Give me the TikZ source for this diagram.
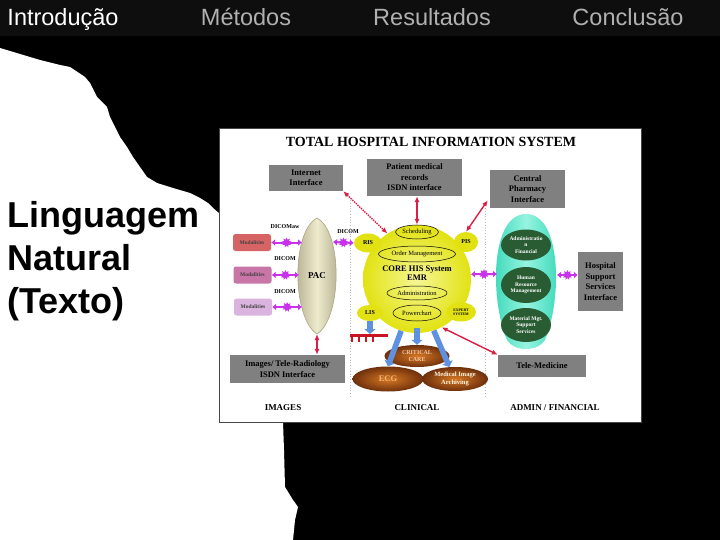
\documentclass[tikz,border=0pt]{standalone}
\usepackage{fontspec}
\setmainfont{Liberation Serif}
\newfontfamily\arialfont{Liberation Sans}
\usetikzlibrary{shapes.geometric, arrows.meta}

\definecolor{barcolor}{RGB}{14,14,14}
\definecolor{tabgray}{RGB}{176,176,176}
\definecolor{framegray}{RGB}{70,70,70}
\definecolor{boxgray}{RGB}{128,128,128}
\definecolor{coreyellow}{RGB}{226,226,18}
\definecolor{corelight}{RGB}{246,246,150}
\definecolor{pacbeige}{RGB}{238,234,204}
\definecolor{pacedge}{RGB}{170,165,135}
\definecolor{tealdark}{RGB}{52,214,182}
\definecolor{teallight}{RGB}{150,244,224}
\definecolor{mgtgreen}{RGB}{42,92,52}
\definecolor{brownlight}{RGB}{215,120,35}
\definecolor{browndark}{RGB}{110,48,12}
\definecolor{arrowred}{RGB}{220,30,70}
\definecolor{arrowblue}{RGB}{95,145,225}
\definecolor{starpurple}{RGB}{200,50,235}
\definecolor{combred}{RGB}{200,20,35}
\definecolor{modred}{RGB}{214,100,100}
\definecolor{modpink}{RGB}{200,118,168}
\definecolor{modlilac}{RGB}{218,180,222}

\begin{document}
\begin{tikzpicture}[x=1pt, y=-1pt,
    tab/.style={font=\arialfont\fontsize{23.5}{26}\selectfont, inner sep=0pt, anchor=base},
    bigtext/.style={font=\arialfont\bfseries\fontsize{36}{43}\selectfont, inner sep=0pt, anchor=base west},
    graybox/.style={fill=boxgray, align=center, inner sep=0pt, font=\bfseries\fontsize{8.5}{10.5}\selectfont},
    modbox/.style={rounded corners=2.5pt, minimum width=38, minimum height=17, inner sep=0pt, text=black!75, font=\bfseries\fontsize{5.5}{6}\selectfont},
    diclabel/.style={inner sep=0pt, font=\bfseries\fontsize{6}{7}\selectfont},
    bubble/.style={ellipse, fill=coreyellow, inner sep=0pt, font=\bfseries\fontsize{6}{7}\selectfont},
    ring/.style={ellipse, draw=black, line width=0.5pt, inner sep=0pt, font=\fontsize{6.5}{7}\selectfont},
    greenoval/.style={ellipse, fill=mgtgreen, text=white, inner sep=0pt, minimum width=50, align=center, font=\bfseries\fontsize{5.5}{6.5}\selectfont},
    brownoval/.style={ellipse, inner sep=0pt, shading=radial, inner color=brownlight, outer color=browndark, align=center},
    redarrow/.style={{Latex[length=6pt,width=5pt]}-{Latex[length=6pt,width=5pt]}, line width=1.4pt, draw=arrowred},
    bluearrow/.style={-{Triangle[length=5pt,width=11pt]}, line width=5.5pt, draw=arrowblue},
    purplearrow/.style={{Latex[length=4pt,width=7pt]}-{Latex[length=4pt,width=7pt]}, line width=2pt, draw=starpurple},
    burst/.style={star, star points=9, star point ratio=1.7, fill=starpurple, inner sep=0pt, minimum size=10pt},
    botlabel/.style={font=\bfseries\fontsize{9}{10}\selectfont}]
    \useasboundingbox (0,0) rectangle (720,540);

    % slide background and tab bar
    \fill[black] (0,0) rectangle (720,540);
    \fill[barcolor] (0,0) rectangle (720,36);
    \node[tab, text=white] (intro) at (63,26) {Introdução};
    \node[tab, text=tabgray] (metodos) at (246,26) {Métodos};
    \node[tab, text=tabgray] (result) at (432,26) {Resultados};
    \node[tab, text=tabgray] (concl) at (628,26) {Conclusão};

    % torn paper
    \fill[white] (0,48) -- (20,54) -- (40,60) -- (60,65) -- (70,67) -- (85,77) -- (90,83)
        -- (97,97) -- (107,107) -- (110,117) -- (115,127) -- (120,137) -- (127,147)
        -- (133,157) -- (140,167) -- (147,177) -- (157,183) -- (173,188) -- (190,193)
        -- (200,198) -- (208,203) -- (213,208) -- (220,214) -- (220,422) -- (283,422)
        -- (284,450) -- (285,487) -- (293,500) -- (298,507) -- (295,520) -- (293,540)
        -- (0,540) -- cycle;

    \node[bigtext] (lingua) at (7,227) {Linguagem};
    \node[bigtext] (natural) at (7,270) {Natural};
    \node[bigtext] (texto) at (7,313) {(Texto)};

    % embedded diagram
    \draw[draw=framegray, fill=white, line width=0.8pt] (219,128) rectangle (641,422);
    \draw[gray!55, dotted, line width=0.8pt] (350,200) -- (350,398);
    \draw[gray!55, dotted, line width=0.8pt] (485,208) -- (485,398);

    \node[font=\bfseries\fontsize{14}{16}\selectfont] (title) at (431,142) {TOTAL HOSPITAL INFORMATION SYSTEM};
    \node[botlabel] (imglab) at (283,408) {IMAGES};
    \node[botlabel] (clinlab) at (417,408) {CLINICAL};
    \node[botlabel] (finlab) at (555,408) {ADMIN / FINANCIAL};

    % interfaces
    \node[graybox, minimum width=74, minimum height=26] (inet) at (306,178) {Internet\\Interface};
    \node[graybox, minimum width=95, minimum height=37] (patient) at (414.5,177.5) {Patient medical\\records\\ISDN interface};
    \node[graybox, minimum width=75, minimum height=38] (pharm) at (527.5,189) {Central\\Pharmacy\\Interface};
    \node[graybox, minimum width=45, minimum height=59] (hosp) at (600.5,281.5) {Hospital\\Support\\Services\\Interface};
    \node[graybox, minimum width=88, minimum height=22] (tele) at (542,366) {Tele-Medicine};
    \node[graybox, minimum width=115, minimum height=28] (imgs) at (287.5,369) {Images/ Tele-Radiology\\ISDN Interface};

    % modalities
    \node[modbox, fill=modred] (mod1) at (252,242.5) {Modalities};
    \node[modbox, fill=modpink] (mod2) at (252.5,275) {Modalities};
    \node[modbox, fill=modlilac] (mod3) at (253,307) {Modalities};
    \node[diclabel] (dic1) at (285,227) {DICOMaw};
    \node[diclabel] (dic2) at (285,259) {DICOM};
    \node[diclabel] (dic3) at (285,292) {DICOM};
    \node[diclabel] (dic4) at (348,232) {DICOM};

    % PAC
    \draw[draw=pacedge, line width=0.6pt, left color=pacedge, right color=pacedge, middle color=pacbeige]
        (317,218) .. controls (343,232) and (342,318) .. (317,334)
        .. controls (292,318) and (291,232) .. (317,218) -- cycle;
    \node[font=\bfseries\fontsize{9}{10}\selectfont] (pac) at (317,276) {PAC};
    \coordinate (pacL1) at (302,242.5);
    \coordinate (pacL2) at (299,275);
    \coordinate (pacR) at (333,242);
    \coordinate (pacL3) at (302,307);
    \coordinate (pacS) at (317,334);

    % core HIS
    \node[circle, minimum size=108, inner sep=0pt, shading=radial, inner color=corelight, outer color=coreyellow] (core) at (417,279) {};
    \node[bubble, minimum width=28, minimum height=19] (ris) at (368,243) {RIS};
    \node[bubble, minimum width=24, minimum height=20] (pis) at (466,242) {PIS};
    \node[bubble, minimum width=26, minimum height=16] (lis) at (370,313) {LIS};
    \node[bubble, minimum width=30, minimum height=19, align=center, font=\bfseries\fontsize{3.8}{4}\selectfont] (expert) at (461,312) {EXPERT\\SYSTEM};
    \node[ring, minimum width=43, minimum height=14] (sched) at (417,232) {Scheduling};
    \node[ring, minimum width=77, minimum height=16] (order) at (417,254) {Order Management};
    \node[align=center, font=\bfseries\fontsize{8.5}{9.5}\selectfont] (emr) at (417,273) {CORE HIS System\\EMR};
    \node[ring, minimum width=60, minimum height=14] (admin) at (417,293) {Administration};
    \node[ring, minimum width=48, minimum height=16] (power) at (417,313) {Powerchart};

    % admin / financial
    \draw[draw=none, left color=tealdark, right color=tealdark, middle color=teallight]
        (526,214) .. controls (562,214) and (562,300) .. (545,340)
        .. controls (538,352) and (514,352) .. (507,340)
        .. controls (490,300) and (490,214) .. (526,214) -- cycle;
    \coordinate (tealL) at (497,274);
    \coordinate (tealR) at (557,275);
    \node[greenoval, minimum height=31] (finance) at (526,245) {Administratio\\n\\Financial};
    \node[greenoval, minimum height=36] (human) at (526,285) {Human\\Resource\\Management};
    \node[greenoval, minimum height=34] (material) at (526,325) {Material Mgt.\\Support\\Services};

    % clinical systems
    \node[brownoval, minimum width=65, minimum height=22, text={rgb,255:red,245;green,200;blue,170}, font=\bfseries\fontsize{6}{6.5}\selectfont] (crit) at (417,356) {CRITICAL\\CARE};
    \node[brownoval, minimum width=71, minimum height=25, text={rgb,255:red,245;green,180;blue,120}, font=\bfseries\fontsize{8.5}{9}\selectfont] (ecg) at (388,379) {ECG};
    \node[brownoval, minimum width=66, minimum height=24, text={rgb,255:red,255;green,245;blue,225}, font=\bfseries\fontsize{6.5}{7.5}\selectfont] (mia) at (455,379) {Medical Image\\Archiving};
    \coordinate (lan) at (370,334);
    \draw[combred, line width=2.5pt] (350,335.5) -- (388,335.5);
    \foreach \x in {352,359,366,373}
        \draw[combred, line width=1.3pt] (\x,335) -- (\x,342);

    % connectors
    \draw[purplearrow] (mod1.east) -- (pacL1) node[burst, midway] (st1) {};
    \draw[purplearrow] (mod2.east) -- (pacL2) node[burst, midway] (st2) {};
    \draw[purplearrow] (mod3.east) -- (pacL3) node[burst, midway] (st3) {};
    \draw[purplearrow] (pacR) -- (ris.west) node[burst, midway] (st4) {};
    \draw[purplearrow] (core.5) -- (tealL) node[burst, midway] (st5) {};
    \draw[purplearrow] (tealR) -- (tealR -| hosp.west) node[burst, midway] (st6) {};

    \draw[redarrow, densely dotted] (inet.south east) -- (core.123);
    \draw[redarrow] (core.north |- patient.south) -- (core.north);
    \draw[redarrow] (pis.north) -- ([shift={(-2,-8)}]pharm.south west);
    \draw[redarrow] (core.-63) -- (tele.north west);
    \draw[redarrow] (pacS) -- (pacS |- imgs.north);

    \draw[bluearrow] (lis.south) -- (lan);
    \draw[bluearrow] ([yshift=5pt]core.south) -- (crit.north);
    \draw[bluearrow] (core.-107) -- (ecg.north);
    \draw[bluearrow] (core.-72) -- (mia.115);
\end{tikzpicture}
\end{document}
